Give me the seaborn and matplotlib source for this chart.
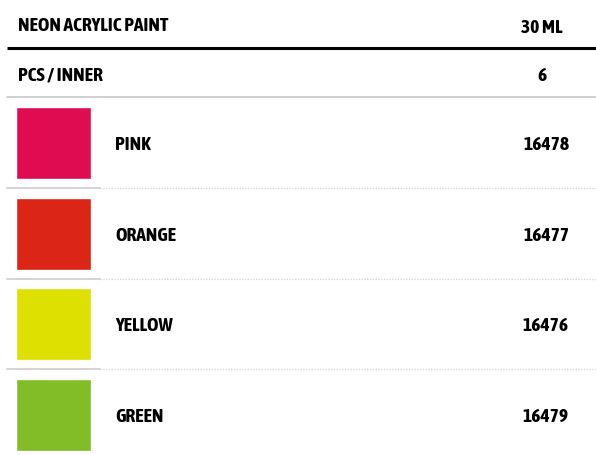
import matplotlib.pyplot as plt
import matplotlib.patheffects as pe
import seaborn as sns
from matplotlib import font_manager

sns.set_theme(style="white")


def weight_of(f):
    w = f.weight
    return w if isinstance(w, int) else font_manager.weight_dict.get(w, 400)


# look for an upright condensed face, the original uses a narrow display font
narrow = [f for f in font_manager.fontManager.ttflist
          if f.style == 'normal' and ('Condensed' in f.name or 'Narrow' in f.name
                                      or f.stretch in ('condensed', 'semi-condensed',
                                                       'extra-condensed'))]
bold_narrow = sorted({f.name for f in narrow if weight_of(f) >= 600})
any_narrow = sorted({f.name for f in narrow})
family = (bold_narrow or any_narrow)[:1]
plt.rcParams['font.family'] = family + ['DejaVu Sans']
# thicken the strokes if no bold condensed face is there
effects = [] if bold_narrow else [pe.withStroke(linewidth=0.9, foreground='black')]

title = 'NEON ACRYLIC PAINT'
size_label = '30 ML'
inner_label = 'PCS / INNER'
inner_value = '6'
names = ['PINK', 'ORANGE', 'YELLOW', 'GREEN']
codes = ['16478', '16477', '16476', '16479']
colors = ['#e00c52', '#da2517', '#dde000', '#82bd28']

fig = plt.figure(figsize=(5.96, 4.56), dpi=100)
ax = fig.add_axes([0, 0, 1, 1])
ax.set_xlim(0, 596)
ax.set_ylim(456, 0)
ax.axis('off')

fs = 14
kw = dict(fontsize=fs, fontweight='bold', style='normal', va='center',
          color='black', fontstretch='condensed', path_effects=effects)
ax.text(18, 26, title, ha='left', **kw)
ax.text(542, 28, size_label, ha='center', **kw)
ax.plot([7, 596], [49, 49], color='black', lw=2.2, solid_capstyle='butt')
ax.text(18, 75, inner_label, ha='left', **kw)
ax.text(542, 76, inner_value, ha='center', **kw)
ax.plot([7, 596], [98, 98], color='#c8c8c8', lw=1.2)

pitch = 90.7
centers = [144 + i * pitch for i in range(len(names))]
ax.bar([16] * len(names), [72] * len(names), width=75,
       bottom=[c - 36 for c in centers], align='edge', color=colors)

for i, (c, name, code) in enumerate(zip(centers, names, codes)):
    ax.text(115, c + 1, name, ha='left', **kw)
    ax.text(546, c + 1, code, ha='center', **kw)
    if i < len(names) - 1:
        y = c + 45
        ax.plot([7, 100], [y, y], color='#d4d4d4', lw=1.4)
        ax.plot([100, 596], [y, y], color='#d8d8d8', lw=1.0, ls=(0, (1, 1)))

fig.savefig('out.png', dpi=100)
